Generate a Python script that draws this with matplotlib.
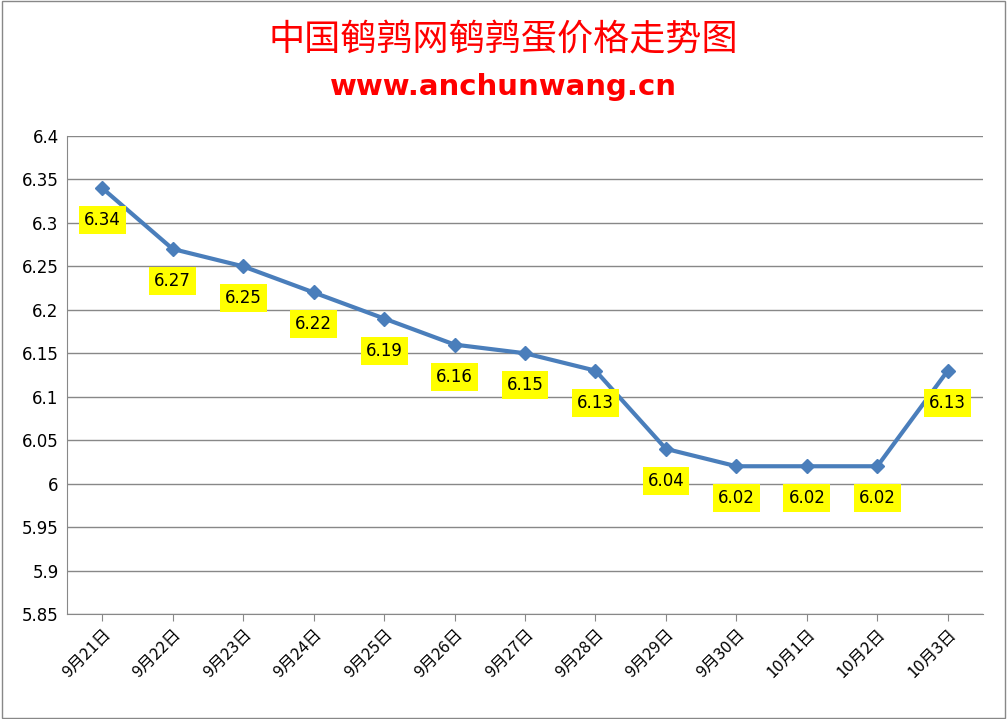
import matplotlib
matplotlib.use("Agg")
import matplotlib.pyplot as plt

dates = ["9月21日","9月22日","9月23日","9月24日","9月25日","9月26日","9月27日","9月28日","9月29日","9月30日","10月1日","10月2日","10月3日"]
prices = [6.34,6.27,6.25,6.22,6.19,6.16,6.15,6.13,6.04,6.02,6.02,6.02,6.13]

plt.rcParams['font.family'] = ['Noto Sans CJK SC', 'DejaVu Sans']
fig = plt.figure(figsize=(10.07,7.19), dpi=100)
ax = fig.add_axes([67/1007, 1-614/719, (983-67)/1007, (614-136)/719])
x = list(range(len(dates)))
ax.plot(x, prices, color='#4a7ebb', lw=3, marker='D', ms=7, mfc='#4a7ebb', mec='#4a7ebb')
for xi, p in zip(x, prices):
    ax.annotate(f"{p:.2f}", (xi, p), xytext=(0, -32), textcoords='offset points' if False else 'offset pixels',
                ha='center', va='center', fontsize=12, family='DejaVu Sans',
                bbox=dict(boxstyle='square,pad=0.3', fc='#ffff00', ec='none'))
ax.set_xlim(-0.5, len(dates)-0.5)
ax.set_ylim(5.85, 6.4)
ax.set_yticks([5.85+0.05*i for i in range(12)])
ax.set_yticklabels([f"{5.85+0.05*i:g}" if True else "" for i in range(12)], fontsize=12, family='DejaVu Sans')
ax.yaxis.set_major_formatter(matplotlib.ticker.FuncFormatter(lambda v, _: f"{round(v,2):g}"))
ax.grid(axis='y', color='#888888', lw=1)
ax.set_axisbelow(True)
ax.set_xticks(x)
ax.set_xticklabels(dates, rotation=45, ha='right', rotation_mode='anchor', fontsize=12)
for s in ['top','right']:
    ax.spines[s].set_visible(False)
ax.spines['left'].set_color('#888888')
ax.spines['bottom'].set_color('#888888')
ax.tick_params(axis='y', length=0, pad=6)
ax.tick_params(axis='x', length=5, color='#888888')
fig.text(0.5, 1-40/719, "中国鹌鹑网鹌鹑蛋价格走势图", color='#ff0000', fontsize=26, ha='center', va='center')
fig.text(0.5, 1-87/719, "www.anchunwang.cn", color='#ff0000', fontsize=21, weight='bold', ha='center', va='center', family='DejaVu Sans')
fig.patches.append(plt.Rectangle((0.002,0.002),0.996,0.996, transform=fig.transFigure, fill=False, ec='#888888', lw=1))
fig.savefig("out.png", dpi=100)
